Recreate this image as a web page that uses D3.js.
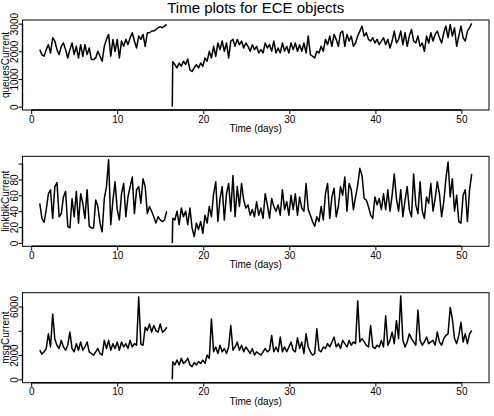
<!DOCTYPE html>
<html>
<head>
<meta charset="utf-8">
<script src="https://cdn.jsdelivr.net/npm/d3@7"></script>
<style>
  body { margin: 0; background: #fff; }
  svg text { font-family: "Liberation Sans", Arial, sans-serif; fill: #000; }
</style>
</head>
<body>
<svg id="chart" width="494" height="416"></svg>
<script>
'use strict';

// Sampling of the series (days)
const DAY_STEP = 0.25;
const START_A = 1;        // first day of the first logging period
const RESTART_B = 16.4;   // day the logging restarts (counter back to 0)

const xTicks = [0, 10, 20, 30, 40, 50];

// queuesCurrent, before and after the restart
const queuesA = [2060, 1880, 1820, 2060, 2240, 1940, 2490, 2370, 2060, 1880,
    2180, 2300, 2060, 1760, 2060, 2300, 1880, 2180, 1760, 2240,
    1820, 2240, 1880, 2120, 1700, 1700, 1760, 2000, 1820, 1640,
    2180, 2430, 2610, 1820, 2430, 2000, 2430, 1760, 2370, 2180,
    2430, 2240, 2490, 2670, 2370, 2120, 2550, 2430, 2610, 2180,
    2670, 2670, 2730, 2730, 2790, 2850, 2890, 2850, 2910, 2970];
const queuesB = [0,
    1620, 1520, 1400, 1580, 1460, 1640, 1520, 1720, 1330, 1270,
    1400, 1520, 1400, 1580, 1460, 1760, 1640, 2000, 1760, 2180,
    1820, 2300, 2060, 2370, 2000, 2300, 1760, 2370, 2430, 2180,
    2430, 2240, 2370, 2120, 2300, 2180, 2000, 2240, 2060, 2180,
    1940, 2060, 1940, 2300, 2120, 2240, 2000, 2370, 1940, 2120,
    1940, 2300, 2000, 2180, 1940, 2300, 2060, 2300, 2000, 2240,
    2000, 2300, 1940, 2550, 1880, 1820, 1760, 2000, 1940, 2180,
    2000, 2430, 2240, 2550, 2180, 2610, 2430, 2180, 2670, 2730,
    2180, 2610, 2370, 2550, 2180, 2300, 2550, 2730, 2910, 2550,
    2670, 2430, 2370, 2490, 2300, 2430, 2240, 2370, 2490, 2240,
    2430, 2120, 2370, 2730, 2300, 2430, 2730, 2240, 2670, 2180,
    2550, 2790, 2370, 2300, 2550, 2180, 2300, 2000, 2550, 2300,
    2670, 2370, 2610, 2730, 2490, 2300, 2670, 2910, 2490, 2970,
    2550, 2850, 2180, 2550, 2910, 2490, 2370, 2730, 2850, 3010];
const queuesTicks = [0, 1000, 2000, 3000];
const queuesTickLabels = ["0", "1000", "2000", "3000"];

// linkblkCurrent
const linkA = [50, 31, 26, 42, 62, 67, 31, 71, 76, 33,
    37, 58, 65, 21, 19, 56, 33, 65, 25, 62,
    50, 31, 67, 21, 19, 19, 54, 46, 25, 14,
    56, 71, 105, 23, 54, 77, 42, 29, 62, 75,
    33, 58, 71, 83, 37, 67, 71, 50, 81, 71,
    37, 46, 40, 33, 25, 33, 29, 27, 29, 40];
const linkB = [0,
    31, 29, 40, 23, 44, 33, 40, 23, 44, 19,
    8, 25, 17, 27, 12, 35, 25, 46, 33, 62,
    77, 27, 56, 71, 29, 62, 75, 40, 85, 33,
    71, 46, 75, 54, 44, 48, 35, 42, 33, 52,
    35, 44, 31, 62, 48, 31, 56, 46, 40, 48,
    35, 67, 42, 52, 35, 60, 42, 62, 35, 58,
    44, 40, 75, 42, 35, 27, 21, 33, 27, 46,
    29, 62, 75, 31, 58, 69, 33, 46, 71, 60,
    83, 40, 75, 67, 42, 58, 73, 94, 85, 56,
    54, 46, 35, 31, 58, 48, 56, 42, 62, 42,
    67, 40, 60, 87, 56, 40, 67, 33, 54, 71,
    42, 33, 87, 48, 37, 77, 40, 31, 58, 50,
    75, 40, 56, 77, 62, 33, 52, 81, 102, 58,
    81, 40, 60, 27, 25, 60, 67, 27, 67, 87];
const linkTicks = [0, 20, 40, 60, 80, 100];
const linkTickLabels = ["0", "20", "40", "60", "80", ""];

// msgCurrent
const msgA = [2400, 2080, 2270, 2540, 3750, 2670, 5380, 3300, 2810, 2540,
    3210, 2670, 2400, 2810, 3890, 2540, 2270, 2940, 2400, 3080,
    2400, 2670, 3080, 2270, 2130, 2000, 2270, 2540, 2130, 2000,
    3210, 2540, 3210, 2400, 2940, 2540, 3080, 2400, 3080, 2670,
    2940, 2540, 3210, 2670, 2940, 2810, 6780, 2900, 2810, 4290,
    4020, 4560, 3890, 4430, 4020, 3890, 4560, 3890, 4020, 4290];
const msgB = [0,
    1460, 1190, 1590, 1190, 1730, 1320, 1460, 1730, 1190, 1050,
    1380, 1190, 1460, 1320, 1590, 1320, 2000, 1730, 4970, 2270,
    2670, 2130, 2810, 2270, 2540, 2130, 2670, 4430, 2400, 2670,
    3080, 2400, 2810, 2270, 2670, 2400, 2130, 2540, 2000, 2270,
    2130, 2000, 2270, 2540, 2270, 2400, 3620, 2270, 2670, 2270,
    3480, 2270, 2670, 2270, 2670, 3080, 2400, 2270, 3430, 2540,
    3080, 2130, 3750, 2670, 2270, 2000, 2130, 4160, 2400, 2270,
    2670, 2540, 2940, 2670, 3080, 3480, 2670, 2940, 2540, 3210,
    2940, 2670, 3210, 2810, 3080, 2940, 6460, 3080, 3350, 3080,
    2810, 2670, 4430, 2670, 2540, 2810, 2670, 3210, 2670, 5240,
    2810, 3210, 3890, 2940, 4830, 3350, 6860, 3210, 2670, 3080,
    3750, 3350, 3080, 2810, 5700, 3210, 2810, 3080, 3480, 2940,
    3080, 3210, 2810, 3890, 3080, 2810, 3350, 3620, 3750, 5920,
    4970, 3350, 2940, 3620, 4700, 3080, 3750, 2940, 3750, 4020];
const msgTicks = [0, 2000, 4000, 6000];
const msgTickLabels = ["0", "2000", "", "6000"];

const LEFT = 22.5, RIGHT = 489, PANEL_H = 90;
const PANEL_TOPS = [20, 156.3, 292.7];

const svg = d3.select("#chart");

/**
 * Turn the two logging periods into one list of points, with a gap between them
 */
function toPoints(segA, segB) {
    const pts = segA.map((v, i) => ({day: START_A + i * DAY_STEP, value: v}));
    pts.push({day: null, value: null});
    segB.forEach((v, i) => {
        const day = i === 0 ? RESTART_B : RESTART_B + 0.05 + (i - 1) * DAY_STEP;
        pts.push({day: day, value: v});
    });
    return pts;
}

/**
 * Range extended by 4% on each side, like R does
 */
function rangeR(values) {
    const [lo, hi] = d3.extent(values);
    const pad = (hi - lo) * 0.04;
    return [lo - pad, hi + pad];
}

const panels = [
    {points: toPoints(queuesA, queuesB), ticks: queuesTicks, labels: queuesTickLabels, ylab: "queuesCurrent"},
    {points: toPoints(linkA, linkB), ticks: linkTicks, labels: linkTickLabels, ylab: "linkblkCurrent"},
    {points: toPoints(msgA, msgB), ticks: msgTicks, labels: msgTickLabels, ylab: "msgCurrent"}
];

const allDays = panels[0].points.filter(p => p.day !== null).map(p => p.day);
const x = d3.scaleLinear().domain(rangeR(allDays)).range([LEFT, RIGHT]);

/**
 * Draw one panel: box, axes, labels and the series
 */
function drawPanel(panel, top) {
    const bottom = top + PANEL_H;
    const values = panel.points.filter(p => p.value !== null).map(p => p.value);
    const y = d3.scaleLinear().domain(rangeR(values)).range([bottom, top]);
    const g = svg.append("g");

    // series
    const line = d3.line()
        .defined(d => d.value !== null)
        .x(d => x(d.day))
        .y(d => y(d.value));
    g.append("path")
        .datum(panel.points)
        .attr("d", line)
        .attr("fill", "none")
        .attr("stroke", "#000")
        .attr("stroke-width", 1.5)
        .attr("stroke-linejoin", "round");

    // box
    g.append("rect")
        .attr("x", LEFT).attr("y", top)
        .attr("width", RIGHT - LEFT).attr("height", PANEL_H)
        .attr("fill", "none").attr("stroke", "#000").attr("stroke-width", 1);

    // x axis
    const xAxis = g.append("g")
        .attr("transform", `translate(0,${bottom})`)
        .call(d3.axisBottom(x).tickValues(xTicks).tickSize(4).tickSizeOuter(0).tickPadding(1.6));
    xAxis.select(".domain").remove();
    xAxis.append("line")
        .attr("x1", x(xTicks[0])).attr("x2", x(xTicks[xTicks.length - 1]))
        .attr("stroke", "#000").attr("stroke-width", 1.4);
    xAxis.selectAll("text").attr("font-size", 10).attr("font-family", null);

    // y axis, labels parallel to the axis
    const yAxis = g.append("g")
        .attr("transform", `translate(${LEFT},0)`)
        .call(d3.axisLeft(y).tickValues(panel.ticks).tickSize(4).tickSizeOuter(0)
            .tickFormat((d, i) => panel.labels[i]));
    yAxis.select(".domain").remove();
    yAxis.append("line")
        .attr("y1", y(panel.ticks[0])).attr("y2", y(panel.ticks[panel.ticks.length - 1]))
        .attr("stroke", "#000").attr("stroke-width", 1.4);
    yAxis.selectAll("text")
        .attr("x", null).attr("dy", null)
        .attr("text-anchor", "middle")
        .attr("transform", "translate(-5,0) rotate(-90)")
        .attr("font-size", 10).attr("font-family", null);

    // axis titles
    g.append("text")
        .attr("x", (LEFT + RIGHT) / 2).attr("y", bottom + 22)
        .attr("text-anchor", "middle").attr("font-size", 10)
        .text("Time (days)");
    g.append("text")
        .attr("transform", `translate(8.5,${top + PANEL_H / 2}) rotate(-90)`)
        .attr("text-anchor", "middle").attr("font-size", 10)
        .text(panel.ylab);
}

panels.forEach((p, i) => drawPanel(p, PANEL_TOPS[i]));

svg.append("text")
    .attr("x", (LEFT + RIGHT) / 2).attr("y", 12.7)
    .attr("text-anchor", "middle").attr("font-size", 15)
    .text("Time plots for ECE objects");
</script>
</body>
</html>
